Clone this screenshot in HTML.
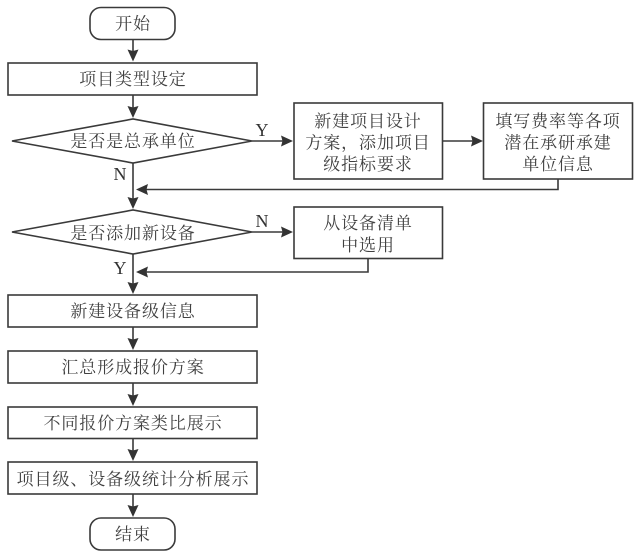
<!DOCTYPE html>
<html><head><meta charset="utf-8"><style>
html,body{margin:0;padding:0;background:#fff;width:636px;height:552px;overflow:hidden}
svg{display:block}
text{font-family:"Liberation Serif","Noto Serif CJK SC",serif;font-size:17px;letter-spacing:0.9px;fill:#404040;text-anchor:middle}
.l{font-family:"Liberation Serif",serif;font-size:18px;letter-spacing:0;fill:#333}
.s{fill:#fff;stroke:#3a3a3a;stroke-width:1.6}
.c{fill:none;stroke:#3a3a3a;stroke-width:1.6}
.a{fill:#333;stroke:none}
</style></head><body>
<svg width="636" height="552" viewBox="0 0 636 552" xmlns="http://www.w3.org/2000/svg">
<rect class="s" x="90" y="7.5" width="85" height="32" rx="11"/>
<rect class="s" x="8" y="63" width="249" height="32"/>
<polygon class="s" points="12,141 133,119 252,141 133,163"/>
<rect class="s" x="294" y="103" width="148.500" height="76"/>
<rect class="s" x="483.500" y="103" width="149" height="76"/>
<polygon class="s" points="12,232 133,210 252,232 133,254"/>
<rect class="s" x="294" y="207" width="148.500" height="51.500"/>
<rect class="s" x="8" y="295" width="249" height="32"/>
<rect class="s" x="8" y="351" width="249" height="32"/>
<rect class="s" x="8" y="407" width="249" height="31.500"/>
<rect class="s" x="8" y="462" width="249" height="32"/>
<rect class="s" x="90" y="518" width="85" height="32" rx="11"/>

<path class="c" d="M133 39.500V55M133 95V111M133 163V202M133 254V287M133 327V343M133 383V399M133 438.500V454M133 494V510M252 141H285M252 232H285M442 141H475M558 179V189.500H145M368 258V272H145"/>
<g class="a">
<path d="M133 61.500l-5.500-12 5.500 1.500 5.500-1.500z"/>
<path d="M133 118l-5.500-12 5.500 1.500 5.500-1.500z"/>
<path d="M133 209l-5.500-12 5.500 1.500 5.500-1.500z"/>
<path d="M133 294l-5.500-12 5.500 1.500 5.500-1.500z"/>
<path d="M133 350l-5.500-12 5.500 1.500 5.500-1.500z"/>
<path d="M133 406l-5.500-12 5.500 1.500 5.500-1.500z"/>
<path d="M133 461l-5.500-12 5.500 1.500 5.500-1.500z"/>
<path d="M133 517l-5.500-12 5.500 1.500 5.500-1.500z"/>
<path d="M293 141l-12-5.500 1.500 5.500-1.500 5.500z"/>
<path d="M293 232l-12-5.500 1.500 5.500-1.500 5.500z"/>
<path d="M483 141l-12-5.500 1.500 5.500-1.500 5.500z"/>
<path d="M136 189.500l12-5.500-1.500 5.500 1.500 5.500z"/>
<path d="M136 272l12-5.500-1.500 5.500 1.500 5.500z"/>
</g>

<text x="133" y="29.500">开始</text>
<text x="133" y="85">项目类型设定</text>
<text x="133" y="147">是否是总承单位</text>
<text x="133" y="239">是否添加新设备</text>
<text x="368" y="127">新建项目设计</text>
<text x="368" y="148.500">方案，添加项目</text>
<text x="368" y="170">级指标要求</text>
<text x="558" y="127">填写费率等各项</text>
<text x="558" y="148.500">潜在承研承建</text>
<text x="558" y="170">单位信息</text>
<text x="368" y="229">从设备清单</text>
<text x="368" y="251">中选用</text>
<text x="133" y="317">新建设备级信息</text>
<text x="133" y="373">汇总形成报价方案</text>
<text x="133" y="429">不同报价方案类比展示</text>
<text x="133" y="485">项目级、设备级统计分析展示</text>
<text x="133" y="540">结束</text>

<text class="l" x="262" y="136">Y</text>
<text class="l" x="120" y="180">N</text>
<text class="l" x="262" y="227">N</text>
<text class="l" x="120" y="274">Y</text>
</svg>
</body></html>
